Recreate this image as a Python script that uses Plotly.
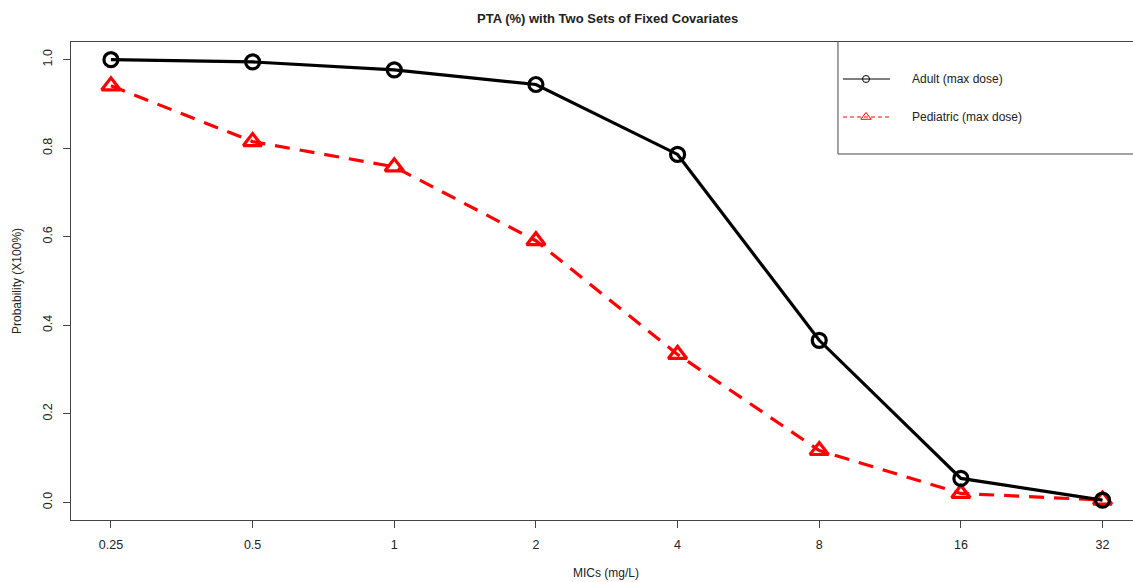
import plotly.graph_objects as go

mic_labels = ["0.25", "0.5", "1", "2", "4", "8", "16", "32"]
adult = [1.000, 0.995, 0.977, 0.944, 0.786, 0.366, 0.054, 0.005]
pediatric = [0.941, 0.815, 0.758, 0.591, 0.334, 0.117, 0.020, 0.005]
y_ticks = [0.0, 0.2, 0.4, 0.6, 0.8, 1.0]
y_tick_text = ["0.0", "0.2", "0.4", "0.6", "0.8", "1.0"]
series_names = ["Adult (max dose)", "Pediatric (max dose)"]

FONT = "Liberation Sans, Arial, Helvetica, sans-serif"
TXT = "#222222"
AX = "#444444"

xi = list(range(len(mic_labels)))

fig = go.Figure()
fig.add_trace(go.Scatter(
    x=xi, y=pediatric, mode="lines+markers", name=series_names[1],
    line=dict(color="#ff0000", width=3.2, dash="15px,10px"),
    marker=dict(symbol="triangle-up-open", size=16, color="#ff0000",
                line=dict(color="#ff0000", width=3.2)),
    showlegend=False, cliponaxis=False))
fig.add_trace(go.Scatter(
    x=xi, y=adult, mode="lines+markers", name=series_names[0],
    line=dict(color="#000000", width=3.2),
    marker=dict(symbol="circle-open", size=14, color="#000000",
                line=dict(color="#000000", width=3.2)),
    showlegend=False, cliponaxis=False))

# legend samples on an overlay axis in paper-like coordinates
lx0, lx1, lxm = 0.7269, 0.7712, 0.7486
rows = [0.9226, 0.8431]
fig.add_trace(go.Scatter(
    x=[lx0, lxm, lx1], y=[rows[0]] * 3, xaxis="x2", yaxis="y2",
    mode="lines", line=dict(color="#000000", width=1), showlegend=False, hoverinfo="skip"))
fig.add_trace(go.Scatter(
    x=[lxm], y=[rows[0]], xaxis="x2", yaxis="y2", mode="markers",
    marker=dict(symbol="circle-open", size=7, color="#000000", line=dict(width=1)),
    showlegend=False, hoverinfo="skip"))
fig.add_trace(go.Scatter(
    x=[lx0, lx1], y=[rows[1]] * 2, xaxis="x2", yaxis="y2",
    mode="lines", line=dict(color="#ff0000", width=1, dash="4px,3px"), showlegend=False, hoverinfo="skip"))
fig.add_trace(go.Scatter(
    x=[lxm], y=[rows[1]], xaxis="x2", yaxis="y2", mode="markers",
    marker=dict(symbol="triangle-up-open", size=9, color="#ff0000", line=dict(width=1)),
    showlegend=False, hoverinfo="skip"))

# legend box (its right side lies beyond the visible page): left and bottom edges only
fig.add_shape(type="line", xref="paper", yref="paper", x0=0.7222, x1=0.7222, y0=0.7657, y1=1.0,
              line=dict(color=AX, width=1))
fig.add_shape(type="line", xref="paper", yref="paper", x0=0.7222, x1=1.0, y0=0.7657, y1=0.7657,
              line=dict(color=AX, width=1))
# white strip at the very right edge of the page
fig.add_shape(type="rect", xref="paper", yref="paper", x0=0.9975, x1=1.02, y0=0.7657 + 0.003, y1=0.997,
              line=dict(width=0), fillcolor="white", layer="above")
for r, name in zip(rows, series_names):
    fig.add_annotation(xref="paper", yref="paper", x=0.790, y=r, text=name, showarrow=False,
                       xanchor="left", yanchor="middle", font=dict(family=FONT, size=12, color=TXT))

fig.add_annotation(xref="paper", yref="paper", x=(607 - 71) / 1062, y=(520 - 18) / 478,
                   text="<b>PTA (%) with Two Sets of Fixed Covariates</b>", showarrow=False,
                   xanchor="center", yanchor="middle", font=dict(family=FONT, size=13, color=TXT))
fig.add_annotation(xref="paper", yref="paper", x=(606 - 71) / 1062, y=(520 - 573) / 478,
                   text="MICs (mg/L)", showarrow=False,
                   xanchor="center", yanchor="middle", font=dict(family=FONT, size=12, color=TXT))
fig.add_annotation(xref="paper", yref="paper", x=(17 - 71) / 1062, y=0.5,
                   text="Probability (X100%)", showarrow=False, textangle=-90,
                   xanchor="center", yanchor="middle", font=dict(family=FONT, size=12, color=TXT))

fig.update_layout(
    width=1133, height=582,
    margin=dict(l=71, r=0, t=42, b=62),
    paper_bgcolor="white", plot_bgcolor="white",
    font=dict(family=FONT, size=12, color=TXT),
    showlegend=False,
    xaxis=dict(range=[-0.282, 7.215], tickmode="array", tickvals=xi, ticktext=mic_labels,
               showgrid=False, zeroline=False, showline=True, mirror=True, linecolor=AX, linewidth=1.3,
               ticks="outside", ticklen=7, tickcolor=AX, tickwidth=1, ticklabelstandoff=6,
               tickfont=dict(size=12.5)),
    yaxis=dict(range=[-0.04, 1.04], tickmode="array", tickvals=y_ticks, ticktext=y_tick_text,
               tickangle=-90, showgrid=False, zeroline=False, showline=True, linecolor=AX, linewidth=1.3,
               ticks="outside", ticklen=7, tickcolor=AX, tickwidth=1, ticklabelstandoff=6,
               tickfont=dict(size=12.5)),
    xaxis2=dict(range=[0, 1], overlaying="x", visible=False, fixedrange=True),
    yaxis2=dict(range=[0, 1], overlaying="y", visible=False, fixedrange=True),
)

fig.write_html("out.html", config={"displayModeBar": False},
               post_script="document.body.style.margin='0';document.body.style.overflow='hidden';")
